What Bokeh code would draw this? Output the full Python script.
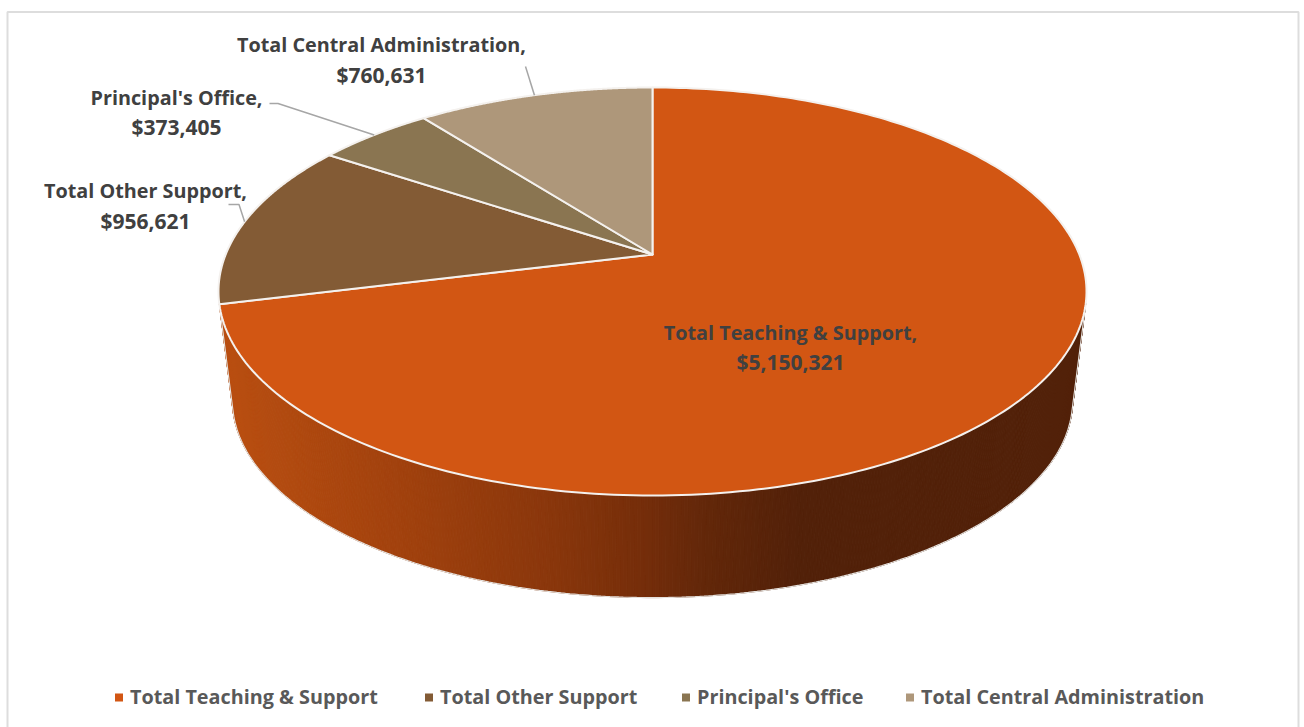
import numpy as np
from bokeh.core.properties import value
from bokeh.embed import file_html
from bokeh.plotting import figure
from bokeh.resources import INLINE

# Budget split shown by the pie
categories = ["Total Teaching & Support", "Total Other Support", "Principal's Office", "Total Central Administration"]
amounts = [5150321, 956621, 373405, 760631]
slice_colors = ["#D25613", "#835B35", "#8A7551", "#AE977A"]
amount_labels = ["$5,150,321", "$956,621", "$373,405", "$760,631"]

# Wall shading: horizontal pixel position to colour stops
wall_stops_x = [225, 400, 550, 640, 700, 800, 1090]
wall_stops_r = [186, 162, 138, 118, 100, 82, 82]
wall_stops_g = [79, 66, 55, 46, 40, 33, 33]
wall_stops_b = [17, 14, 12, 10, 10, 9, 9]

FONT = value("Open Sans")
TEXT_SIZE = "19.8px"
AMOUNT_SIZE = "21px"
W, H = 1304, 727
CX, APEX_Y = 652, 254
A, B, K = 426.8, 197.3, 0.1814
WALL_SCALE, WALL_CY, TOP_CY = 0.968, 399.6, 291.0
WALL_FROM, WALL_TO = 103.7, 256.3  # angles where the wall meets the silhouette


def rim(theta):
    """Perspective projection of a clockwise-from-top angle on the disc's rim."""
    u, v = np.sin(theta), -np.cos(theta)
    d = 1 - K * v
    return CX + A * u / d, APEX_Y + B * v / d


def lower_rim(x, y):
    return CX + (x - CX) * WALL_SCALE, WALL_CY + (y - TOP_CY) * WALL_SCALE


fractions = np.array(amounts) / sum(amounts)
edges = np.concatenate([[0], np.cumsum(fractions)]) * 2 * np.pi

p = figure(width=W, height=H, x_range=(0, W), y_range=(H, 0), output_backend="svg",
           toolbar_location=None, min_border=0, outline_line_color=None,
           background_fill_color="white", border_fill_color="white")
p.axis.visible = False
p.grid.visible = False

# Chart frame, open at the bottom
p.line([7, 7, 1298, 1298], [H + 2, 11.5, 11.5, H + 2], line_color="#DDDDDD", line_width=2)

# Side wall built from thin shaded strips
steps = np.radians(np.arange(WALL_FROM, WALL_TO + 0.01, 0.4))
xs, ys, cols = [], [], []
for t0, t1 in zip(steps[:-1], steps[1:]):
    x0, y0 = rim(t0)
    x1, y1 = rim(t1)
    bx0, by0 = lower_rim(x0, y0)
    bx1, by1 = lower_rim(x1, y1)
    mid = (x0 + x1 + bx0 + bx1) / 4
    r = np.interp(mid, wall_stops_x, wall_stops_r)
    g = np.interp(mid, wall_stops_x, wall_stops_g)
    b = np.interp(mid, wall_stops_x, wall_stops_b)
    xs.append([x0, x1, bx1, bx0])
    ys.append([y0, y1, by1, by0])
    cols.append("#%02X%02X%02X" % (int(r), int(g), int(b)))
p.patches(xs, ys, fill_color=cols, line_color=cols, line_width=1)

# Pale edge along the underside and up both sides
arc = np.radians(np.linspace(WALL_FROM, WALL_TO, 300))
ax, ay = rim(arc)
bx, by = lower_rim(ax, ay)
p.line(np.concatenate([[ax[0]], bx, [ax[-1]]]), np.concatenate([[ay[0]], by, [ay[-1]]]),
       line_color="#E4E0DC", line_width=1.2)

# Top face
for i, color in enumerate(slice_colors):
    t = np.linspace(edges[i], edges[i + 1], 240)
    x, y = rim(t)
    p.patch(np.concatenate([[CX], x]), np.concatenate([[APEX_Y], y]), fill_color=color,
            line_color="#F4F1EE", line_width=2, line_join="round")

# Leader lines from the middle of each outside slice
leader_from = {1: [(228, 204), (238.5, 204)], 2: [(269, 103), (277.5, 103)], 3: [(525, 66)]}
for i, pts in leader_from.items():
    mx, my = rim((edges[i] + edges[i + 1]) / 2)
    p.line([q[0] for q in pts] + [mx], [q[1] for q in pts] + [my], line_color="#A6A6A6", line_width=1.5)

# Data labels: name on the first line, amount on the second
label_pos = [(790, 332, 361), (145, 190, 220), (176, 97, 126), (381, 44, 74)]
for name, amt, (lx, y1, y2) in zip(categories, amount_labels, label_pos):
    p.text([lx], [y1], text=[name + ","], text_font=FONT, text_font_style="bold", text_font_size=TEXT_SIZE,
           text_color="#404040", text_align="center", text_baseline="middle")
    p.text([lx], [y2], text=[amt], text_font=FONT, text_font_style="bold", text_font_size=AMOUNT_SIZE,
           text_color="#404040", text_align="center", text_baseline="middle")

# Legend along the bottom
legend_x = [130, 440, 697, 921]
for name, color, lx in zip(categories, slice_colors, legend_x):
    p.quad(left=[lx - 15.5], right=[lx - 7.5], top=[693], bottom=[701], fill_color=color, line_color=None)
    p.text([lx - 0.5], [696], text=[name], text_font=FONT, text_font_style="bold", text_font_size=TEXT_SIZE,
           text_color="#595959", text_align="left", text_baseline="middle")

open("out.html", "w").write(file_html(p, INLINE))
